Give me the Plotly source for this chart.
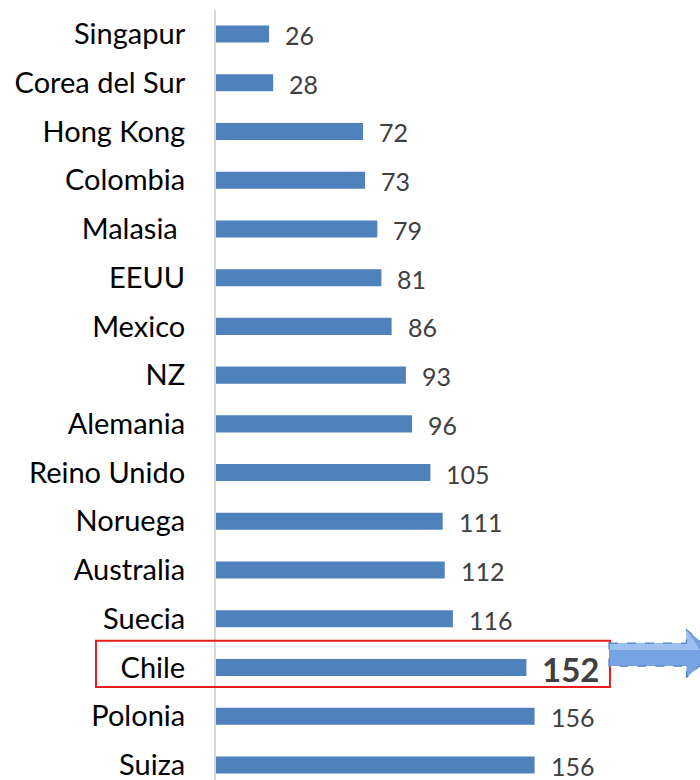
import plotly.graph_objects as go

# Data (top to bottom)
countries = ["Singapur", "Corea del Sur", "Hong Kong", "Colombia", "Malasia ", "EEUU",
             "Mexico", "NZ", "Alemania", "Reino Unido", "Noruega", "Australia",
             "Suecia", "Chile", "Polonia", "Suiza"]
values = [26, 28, 72, 73, 79, 81, 86, 93, 96, 105, 111, 112, 116, 152, 156, 156]
highlight = "Chile"

bar_color = "#4f81bd"
label_color = "#404040"
font_family = "Lato, 'Open Sans', sans-serif"

y_range = [15.308, -0.4925]  # reversed category axis


def to_paper_y(v):
    # category index -> paper fraction
    return (y_range[0] - v) / (y_range[0] - y_range[1])


fig = go.Figure()

fig.add_trace(go.Bar(
    x=values,
    y=countries,
    orientation="h",
    marker=dict(color=bar_color, line=dict(width=0)),
    width=0.35,
    hoverinfo="skip",
))

# Value labels next to each bar
annotations = []
for name, val in zip(countries, values):
    is_hl = name == highlight
    annotations.append(dict(
        x=val, y=name, xref="x", yref="y",
        text=f"<b>{val}</b>" if is_hl else str(val),
        showarrow=False, xanchor="left", yanchor="middle",
        xshift=14, yshift=-1,
        font=dict(family=font_family, size=33 if is_hl else 25, color=label_color),
    ))

hl = countries.index(highlight)

# Red box round the highlighted row
shapes = [
    dict(type="rect", xref="paper", yref="paper",
         x0=-0.248, x1=0.814, y0=to_paper_y(hl - 0.55), y1=to_paper_y(hl + 0.4),
         line=dict(color="#e81c1c", width=2), fillcolor="rgba(0,0,0,0)", layer="above"),
]

# Arrow pointing right from the box (fill, light top band, dashed outline)
top, bot = to_paper_y(hl - 0.5), to_paper_y(hl - 0.03)
htop, hbot = to_paper_y(hl - 0.78), to_paper_y(hl + 0.2)
mid = to_paper_y(hl - 0.29)
arrow = (f"M 0.812 {top} L 0.972 {top} L 0.972 {htop} L 1.03 {mid} "
         f"L 0.972 {hbot} L 0.972 {bot} L 0.812 {bot} Z")
shapes.append(dict(type="path", xref="paper", yref="paper", path=arrow,
                   fillcolor="#76a3e4", line=dict(width=0), layer="above"))
band = to_paper_y(hl - 0.36)
shapes.append(dict(type="path", xref="paper", yref="paper",
                   path=(f"M 0.812 {top} L 0.972 {top} L 0.972 {htop} "
                         f"L 1.0 {band} L 0.812 {band} Z"),
                   fillcolor="#9cc0f0", line=dict(width=0), layer="above"))
shapes.append(dict(type="path", xref="paper", yref="paper", path=arrow,
                   fillcolor="rgba(0,0,0,0)",
                   line=dict(color="#4f81bd", width=1.2, dash="dash"), layer="above"))

fig.update_layout(
    width=700, height=780,
    margin=dict(l=216, r=0, t=10, b=0, autoexpand=False),
    paper_bgcolor="white", plot_bgcolor="white",
    showlegend=False,
    annotations=annotations,
    shapes=shapes,
    xaxis=dict(visible=False, range=[0, 237], fixedrange=True, automargin=False),
    yaxis=dict(
        type="category",
        categoryorder="array", categoryarray=countries,
        range=y_range, automargin=False,
        showline=True, linecolor="#d9d9d9", linewidth=2,
        showgrid=False, zeroline=False,
        ticks="", ticklabelstandoff=23,
        tickfont=dict(family=font_family, size=29, color="black"),
    ),
)

fig.write_html("out.html", config={"displayModeBar": False},
               post_script="document.body.style.margin='0';")
